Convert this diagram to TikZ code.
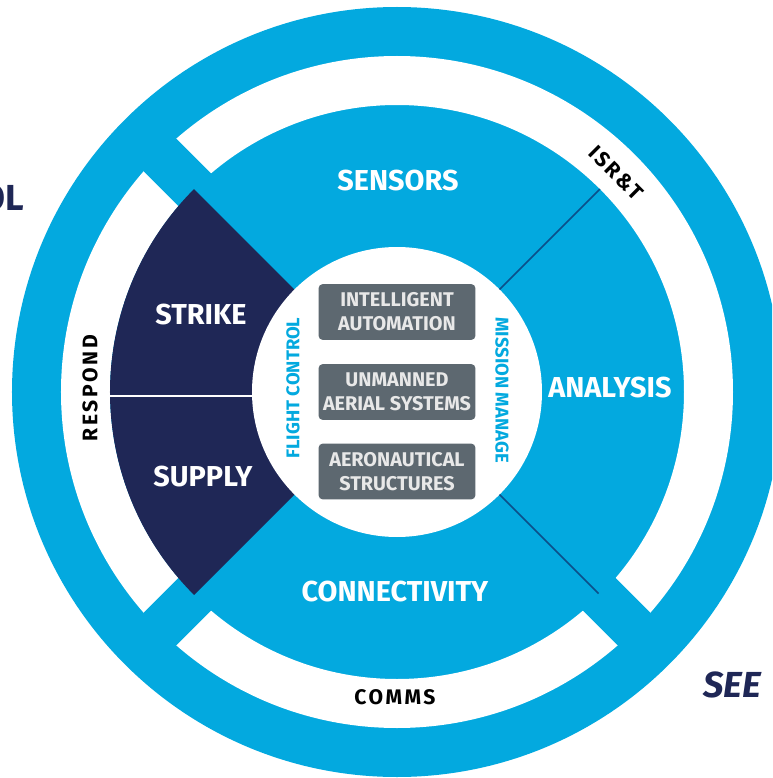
\documentclass[tikz,border=0pt]{standalone}
\usepackage{fontspec}
\setmainfont{Fira Sans}
\newfontfamily\spacedfont{Fira Sans}[LetterSpace=12]
\usetikzlibrary{positioning}

\definecolor{ringblue}{HTML}{03A9DF}
\definecolor{navy}{HTML}{1F2756}
\definecolor{boxgray}{HTML}{5D6870}
\definecolor{boxtext}{HTML}{E8E8E8}
\definecolor{spoke}{HTML}{0B4F8A}

\newcommand\spokewidth{.9pt}
\newcommand\barhalf{23}

\tikzstyle{sector label} = [text=white, font=\bfseries\fontsize{16.4}{18}\selectfont]
\tikzstyle{ring label}   = [text=black, font=\spacedfont\bfseries\fontsize{12}{14}\selectfont]
\tikzstyle{core label}   = [text=ringblue, font=\bfseries\fontsize{10.5}{12}\selectfont]
\tikzstyle{core box}     = [fill=boxgray, rounded corners=2.5pt, minimum width=3.14cm,
                            minimum height=1.12cm, inner sep=0pt, align=center, text=boxtext,
                            font=\bfseries\fontsize{11.3}{13.6}\selectfont]
\tikzstyle{side label}   = [text=navy, font=\bfseries\fontsize{20.6}{24}\selectfont]
\tikzstyle{spoke}        = [draw=spoke, line width=\spokewidth]

\begin{document}
\begin{tikzpicture}[x=0.02cm, y=0.02cm]
    \useasboundingbox (-397,-386) rectangle (375,392);
    \clip (-397,-386) rectangle (375,392);

    % rings, the outer one broken by three bars
    \fill[ringblue] (0,0) circle[radius=385];
    \fill[white, even odd rule] (0,0) circle[radius=336] circle[radius=287];
    \foreach \a in {135,225,315}
        \fill[ringblue, rotate=\a] (280,-\barhalf) rectangle (345,\barhalf);

    % respond sector
    \fill[navy] (0,0) -- (135:287) arc[start angle=135, end angle=225, radius=287] -- cycle;
    \coordinate (split-out) at (-287,-4);
    \coordinate (split-in) at (-145,-4);
    \draw[white, line width=1.1pt] (split-out) -- (split-in);

    \fill[white] (0,0) circle[radius=145];

    % spokes between sensors, analysis and connectivity
    \coordinate (isr-in) at (45:145);
    \coordinate (isr-out) at (45:287);
    \coordinate (comms-in) at (-45:145);
    \coordinate (comms-out) at (-45:285);
    \draw[spoke] (isr-in) -- (isr-out);
    \draw[spoke] (comms-in) -- (comms-out);

    \node[sector label] (sensors) at (1,211) {SENSORS};
    \node[sector label] (strike) at (-196,77) {STRIKE};
    \node[sector label] (supply) at (-194,-85) {SUPPLY};
    \node[sector label] (analysis) at (213,4) {ANALYSIS};
    \node[sector label] (connectivity) at (-2,-200) {CONNECTIVITY};

    \node[ring label, rotate=90] (respond) at (-307,4) {RESPOND};
    \node[ring label, rotate=-45] (isrt) at (45:310) {ISR\&T};
    \node[ring label] (comms) at (-2,-305) {COMMS};

    \node[core label, rotate=90] (flight) at (-104,4) {FLIGHT CONTROL};
    \node[core label, rotate=-90] (mission) at (105,2) {MISSION MANAGE};

    \node[core box] (automation) at (0,80) {INTELLIGENT\\AUTOMATION};
    \node[core box] (uas) at (0,0) {UNMANNED\\AERIAL SYSTEMS};
    \node[core box] (structures) at (0,-79.5) {AERONAUTICAL\\STRUCTURES};

    \node[side label, anchor=east] (control) at (-367,194) {OL};
    \node[side label, font=\bfseries\itshape\fontsize{20.6}{24}\selectfont] (see) at (335,-293) {SEE};
\end{tikzpicture}
\end{document}
